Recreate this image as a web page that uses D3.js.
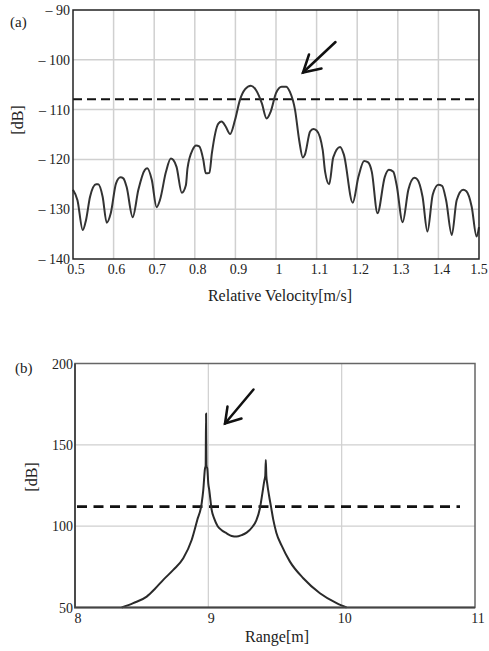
<!DOCTYPE html>
<html><head><meta charset="utf-8">
<script src="https://cdn.jsdelivr.net/npm/d3@7"></script>
<style>body{margin:0;background:#fff;}svg{display:block;}</style>
</head><body>
<svg id="c" width="489" height="651"></svg>
<script>
// ---- Chart (a) data ----
const velA = [0.500,0.511,0.524,0.532,0.542,0.557,0.562,0.573,0.583,0.593,0.606,0.617,0.624,0.632,0.647,0.661,0.677,0.683,0.694,0.706,0.714,0.729,0.741,0.747,0.755,0.768,0.778,0.782,0.795,0.803,0.811,0.821,0.827,0.836,0.842,0.858,0.866,0.876,0.887,0.899,0.911,0.924,0.938,0.951,0.965,0.977,0.987,1.000,1.014,1.025,1.034,1.047,1.057,1.066,1.071,1.084,1.092,1.100,1.115,1.121,1.131,1.141,1.158,1.167,1.189,1.203,1.217,1.227,1.236,1.250,1.268,1.278,1.289,1.297,1.312,1.326,1.341,1.348,1.361,1.373,1.386,1.400,1.409,1.419,1.433,1.445,1.461,1.469,1.482,1.494,1.500];
const dbA = [-126.1,-128.2,-134.2,-132.2,-127.5,-125.0,-125.0,-127.5,-132.7,-130.8,-124.8,-123.6,-123.8,-125.5,-131.6,-126.1,-122.1,-121.8,-124.1,-129.6,-128.2,-122.5,-119.8,-120.1,-121.5,-126.7,-125.2,-121.8,-118.0,-117.2,-117.4,-120.1,-122.8,-122.7,-118.8,-112.8,-112.4,-113.4,-114.9,-112.1,-108.1,-105.9,-105.2,-106.1,-108.7,-111.8,-110.4,-106.7,-105.4,-105.4,-106.4,-110.1,-116.1,-119.6,-119.1,-114.4,-113.9,-114.2,-118.1,-122.5,-125.0,-119.6,-117.5,-119.0,-128.7,-123.5,-120.3,-120.6,-122.5,-130.8,-123.5,-122.1,-122.5,-125.1,-132.6,-126.1,-123.7,-124.0,-127.5,-134.5,-127.1,-125.1,-125.3,-128.2,-135.2,-128.2,-126.1,-126.4,-129.5,-135.5,-133.6];
const thresholdA = -107.9;
const xTicksA = [0.5,0.6,0.7,0.8,0.9,1,1.1,1.2,1.3,1.4,1.5];
const xTickLabelsA = ["0.5","0.6","0.7","0.8","0.9","1","1.1","1.2","1.3","1.4","1.5"];
const yTicksA = [-90,-100,-110,-120,-130,-140];
const yTickLabelsA = ["– 90","– 100","– 110","– 120","– 130","– 140"];

// ---- Chart (b) data ----
const rangeB = [8.35,8.437,8.538,8.600,8.662,8.737,8.812,8.875,8.917,8.95,8.962,8.975,8.980,8.983,8.986,8.992,9.000,9.007,9.025,9.045,9.070,9.100,9.137,9.175,9.212,9.250,9.287,9.330,9.360,9.387,9.405,9.420,9.427,9.431,9.435,9.442,9.455,9.470,9.487,9.510,9.550,9.612,9.712,9.837,9.962,10.037];
const dbB = [50,52.7,56.7,61.5,67,73.1,80.3,91.5,103.8,114,122.2,135.5,137,169.3,137,135.5,126,122.2,110,104.5,100,97.5,95.6,94,93.6,94.5,96,99.5,103.5,111,120,128,131,140.6,131,126,119,112,104,96,88,78.2,68,58.8,52.7,50];
const thresholdB = 112;
const xTicksB = [8,9,10,11];
const xTickLabelsB = ["8","9","10","11"];
const yTicksB = [200,150,100,50];
const yTickLabelsB = ["200","150","100","50"];

const svg = d3.select("#c");
const serif = "'Liberation Serif','Times New Roman',serif";
const txt = "#222";

// ================= Chart (a) =================
const A = {l:73, r:479, t:10, b:259};
const xA = d3.scaleLinear().domain([0.5,1.5]).range([A.l,A.r]);
const yA = d3.scaleLinear().domain([-140,-90]).range([A.b,A.t]);
const gA = svg.append("g");
gA.selectAll(".vg").data(xTicksA.slice(1,-1)).enter().append("line")
  .attr("x1",d=>xA(d)).attr("x2",d=>xA(d)).attr("y1",A.t).attr("y2",A.b)
  .attr("stroke","#d0d0d0").attr("stroke-width",1.5);
gA.selectAll(".hg").data(yTicksA.slice(1,-1)).enter().append("line")
  .attr("y1",d=>yA(d)).attr("y2",d=>yA(d)).attr("x1",A.l).attr("x2",A.r)
  .attr("stroke","#d0d0d0").attr("stroke-width",1.5);
gA.append("line").attr("x1",A.l).attr("x2",A.r)
  .attr("y1",yA(thresholdA)).attr("y2",yA(thresholdA))
  .attr("stroke","#111").attr("stroke-width",2).attr("stroke-dasharray","9,5");
const lineA = d3.line().x((d,i)=>xA(velA[i])).y(d=>yA(d)).curve(d3.curveMonotoneX);
gA.append("path").attr("d",lineA(dbA)).attr("fill","none")
  .attr("stroke","#333").attr("stroke-width",2).attr("stroke-linejoin","round");
gA.append("rect").attr("x",A.l).attr("y",A.t).attr("width",A.r-A.l).attr("height",A.b-A.t)
  .attr("fill","none").attr("stroke","#222").attr("stroke-width",1.5);
gA.selectAll(".xl").data(xTicksA).enter().append("text")
  .attr("x",(d,i)=>xA(d)+(i===xTicksA.length-1?0:3)).attr("y",274).attr("text-anchor","middle")
  .attr("font-family",serif).attr("font-size",14).attr("fill",txt)
  .text((d,i)=>xTickLabelsA[i]);
gA.selectAll(".yl").data(yTicksA).enter().append("text")
  .attr("x",70).attr("y",d=>yA(d)+5).attr("text-anchor","end")
  .attr("font-family",serif).attr("font-size",14).attr("fill",txt)
  .text((d,i)=>yTickLabelsA[i]);
gA.append("text").attr("x",280).attr("y",301).attr("text-anchor","middle")
  .attr("font-family",serif).attr("font-size",16).attr("fill",txt).text("Relative Velocity[m/s]");
gA.append("text").attr("transform","translate(23,120) rotate(-90)").attr("text-anchor","middle")
  .attr("font-family",serif).attr("font-size",16).attr("fill",txt).text("[dB]");
gA.append("text").attr("x",10).attr("y",27)
  .attr("font-family",serif).attr("font-size",15).attr("fill",txt).text("(a)");
function arrow(g,x1,y1,x2,y2,a1,a2){
  g.append("line").attr("x1",x1).attr("y1",y1).attr("x2",x2).attr("y2",y2)
    .attr("stroke","#111").attr("stroke-width",2.5).attr("stroke-linecap","round");
  g.append("path").attr("d",`M${a1[0]},${a1[1]}L${x2},${y2}L${a2[0]},${a2[1]}`)
    .attr("fill","none").attr("stroke","#111").attr("stroke-width",2.5)
    .attr("stroke-linecap","round").attr("stroke-linejoin","miter");
}
arrow(gA,335.5,42,303,72.5,[309,54.5],[321.5,68.5]);

// ================= Chart (b) =================
const B = {l:75, r:475, t:363.5, b:607.5};
const xB = d3.scaleLinear().domain([8,11]).range([B.l,B.r]);
const yB = d3.scaleLinear().domain([50,200]).range([B.b,B.t]);
const gB = svg.append("g");
gB.selectAll(".vg").data(xTicksB.slice(1,-1)).enter().append("line")
  .attr("x1",d=>xB(d)).attr("x2",d=>xB(d)).attr("y1",B.t).attr("y2",B.b)
  .attr("stroke","#cfcfcf").attr("stroke-width",1.2);
gB.selectAll(".hg").data(yTicksB.slice(1,-1)).enter().append("line")
  .attr("y1",d=>yB(d)).attr("y2",d=>yB(d)).attr("x1",B.l).attr("x2",B.r)
  .attr("stroke","#cfcfcf").attr("stroke-width",1.2);
gB.append("line").attr("x1",77).attr("x2",460)
  .attr("y1",yB(thresholdB)).attr("y2",yB(thresholdB))
  .attr("stroke","#111").attr("stroke-width",2.8).attr("stroke-dasharray","10,6.5");
const lineB = d3.line().x((d,i)=>xB(rangeB[i])).y(d=>yB(d)).curve(d3.curveMonotoneX);
gB.append("path").attr("d",lineB(dbB)).attr("fill","none")
  .attr("stroke","#2a2a2a").attr("stroke-width",2).attr("stroke-linejoin","round");
gB.append("rect").attr("x",B.l).attr("y",B.t).attr("width",B.r-B.l).attr("height",B.b-B.t)
  .attr("fill","none").attr("stroke","#666").attr("stroke-width",1.5);
gB.append("path").attr("d",`M${B.l},${B.t}V${B.b}H${B.r}`)
  .attr("fill","none").attr("stroke","#444").attr("stroke-width",1.8);
gB.selectAll(".xl").data(xTicksB).enter().append("text")
  .attr("x",d=>xB(d)+3).attr("y",623).attr("text-anchor","middle")
  .attr("font-family",serif).attr("font-size",14).attr("fill",txt)
  .text((d,i)=>xTickLabelsB[i]);
gB.selectAll(".yl").data(yTicksB).enter().append("text")
  .attr("x",73).attr("y",d=>yB(d)+5).attr("text-anchor","end")
  .attr("font-family",serif).attr("font-size",14).attr("fill",txt)
  .text((d,i)=>yTickLabelsB[i]);
gB.append("text").attr("x",277).attr("y",642).attr("text-anchor","middle")
  .attr("font-family",serif).attr("font-size",16).attr("fill",txt).text("Range[m]");
gB.append("text").attr("transform","translate(37,477) rotate(-90)").attr("text-anchor","middle")
  .attr("font-family",serif).attr("font-size",16).attr("fill",txt).text("[dB]");
gB.append("text").attr("x",15).attr("y",373)
  .attr("font-family",serif).attr("font-size",15).attr("fill",txt).text("(b)");
arrow(gB,253.5,389.5,225,423.5,[227.5,406.5],[241.5,418.5]);
</script>
</body></html>
